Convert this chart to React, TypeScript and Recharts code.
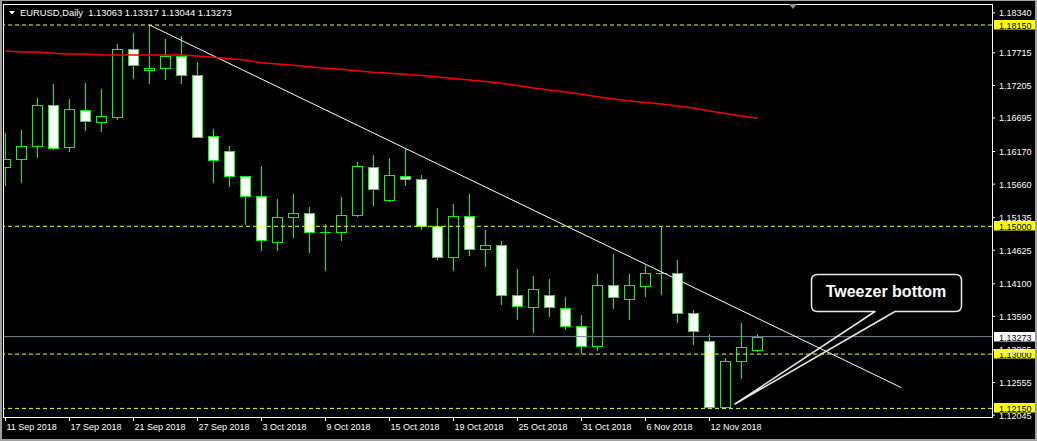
import React from "react";
import { ComposedChart, Bar, Line, XAxis, YAxis, ReferenceLine } from "recharts";

// EURUSD daily bars, 11 Sep 2018 .. 15 Nov 2018
const dates = [
  "11 Sep 2018", "12 Sep 2018", "13 Sep 2018", "14 Sep 2018", "17 Sep 2018", "18 Sep 2018",
  "19 Sep 2018", "20 Sep 2018", "21 Sep 2018", "24 Sep 2018", "25 Sep 2018", "26 Sep 2018",
  "27 Sep 2018", "28 Sep 2018", "1 Oct 2018", "2 Oct 2018", "3 Oct 2018", "4 Oct 2018",
  "5 Oct 2018", "8 Oct 2018", "9 Oct 2018", "10 Oct 2018", "11 Oct 2018", "12 Oct 2018",
  "15 Oct 2018", "16 Oct 2018", "17 Oct 2018", "18 Oct 2018", "19 Oct 2018", "22 Oct 2018",
  "23 Oct 2018", "24 Oct 2018", "25 Oct 2018", "26 Oct 2018", "29 Oct 2018", "30 Oct 2018",
  "31 Oct 2018", "1 Nov 2018", "2 Nov 2018", "5 Nov 2018", "6 Nov 2018", "7 Nov 2018",
  "8 Nov 2018", "9 Nov 2018", "12 Nov 2018", "13 Nov 2018", "14 Nov 2018", "15 Nov 2018",
];

const opens = [
  1.15923, 1.16048, 1.16252, 1.16893, 1.16236, 1.16815, 1.16627, 1.16715, 1.1777, 1.17441, 1.17472, 1.17665,
  1.17363, 1.16408, 1.16174, 1.15782, 1.15469, 1.14759, 1.15141, 1.15203, 1.14905, 1.14906, 1.15172, 1.15923,
  1.15407, 1.15782, 1.15735, 1.14997, 1.14527, 1.15156, 1.1464, 1.14703, 1.1392, 1.13732, 1.1392, 1.13717,
  1.13435, 1.13122, 1.14077, 1.13867, 1.14061, 1.14264, 1.14264, 1.13638, 1.132, 1.1217, 1.12887, 1.13063,
];
const highs = [
  1.16455, 1.16507, 1.17003, 1.17227, 1.16992, 1.17242, 1.17148, 1.17853, 1.1802, 1.1815, 1.17931, 1.17978,
  1.17571, 1.16522, 1.16252, 1.15792, 1.15943, 1.15427, 1.15505, 1.15302, 1.15036, 1.15458, 1.16006, 1.16116,
  1.16069, 1.16214, 1.15803, 1.15286, 1.15349, 1.15505, 1.14942, 1.1477, 1.14332, 1.14222, 1.14175, 1.13893,
  1.13612, 1.14253, 1.14566, 1.14253, 1.14394, 1.14994, 1.14473, 1.1369, 1.13314, 1.12939, 1.13482, 1.13317,
];
const lows = [
  1.15646, 1.15698, 1.16089, 1.16205, 1.16183, 1.16512, 1.16496, 1.16684, 1.17325, 1.17238, 1.17305, 1.17247,
  1.16393, 1.15698, 1.15635, 1.1504, 1.14629, 1.14629, 1.14837, 1.14602, 1.14316, 1.14785, 1.15166, 1.15333,
  1.154, 1.15651, 1.14958, 1.14488, 1.14321, 1.14555, 1.14383, 1.13789, 1.13554, 1.13351, 1.13601, 1.13393,
  1.13022, 1.13069, 1.13726, 1.13554, 1.13914, 1.13945, 1.13507, 1.13163, 1.1216, 1.1216, 1.12631, 1.13044,
];
const closes = [
  1.16048, 1.16252, 1.16893, 1.1622, 1.16831, 1.16643, 1.16721, 1.1777, 1.17519, 1.17472, 1.17665, 1.17363,
  1.16405, 1.16033, 1.15782, 1.15469, 1.14781, 1.15141, 1.15203, 1.14906, 1.14908, 1.15172, 1.15939, 1.15579,
  1.15798, 1.15735, 1.14997, 1.14527, 1.15156, 1.1464, 1.14703, 1.1392, 1.13748, 1.14014, 1.13732, 1.13432,
  1.13122, 1.14077, 1.13889, 1.14077, 1.14264, 1.14262, 1.13638, 1.13357, 1.1217, 1.12887, 1.13106, 1.13273,
];
// moving average (red)
const maValues = [
  1.17743, 1.17727, 1.17727, 1.17707, 1.17696, 1.17696, 1.1768, 1.1768, 1.1768, 1.1768, 1.1768, 1.1768,
  1.17665, 1.17645, 1.17623, 1.17602, 1.17561, 1.1754, 1.17519, 1.17497, 1.17472, 1.17457, 1.17435, 1.1741,
  1.17394, 1.17378, 1.1736, 1.17336, 1.17313, 1.17289, 1.17266, 1.17239, 1.17203, 1.17164, 1.17133, 1.17101,
  1.17066, 1.17028, 1.16992, 1.16961, 1.16937, 1.16914, 1.16882, 1.16851, 1.16804, 1.16765, 1.16726, 1.1669,
];

const priceTicks = [
  1.1834, 1.17715, 1.17205, 1.16695, 1.1617, 1.1566, 1.15135, 1.14625, 1.141, 1.1359, 1.13065, 1.12555, 1.12045,
];
const dateTicks = [0, 4, 8, 12, 16, 20, 24, 28, 32, 36, 40, 44];
const levels = [1.1815, 1.15, 1.13, 1.1215];
const lastPrice = 1.13273;
const trendStart = { x: 9, y: 1.1815 };
const trendEnd = { x: 56, y: 1.12474 };

const data = dates.map((d, i) => ({
  i,
  date: d,
  open: opens[i],
  high: highs[i],
  low: lows[i],
  close: closes[i],
  ma: maValues[i],
  range: [lows[i], highs[i]],
}));

const GREEN = "#00ff00";
const FONT = "'Liberation Sans', Arial, sans-serif";

function Candle(props: any) {
  const { x, y, width, height, payload } = props;
  if (x == null || y == null || !payload) return null;
  const cx = Math.floor(x + width / 2) + 0.5;
  const { open, close, high, low } = payload;
  const toY = (p: number) => y + ((high - p) / (high - low)) * height;
  const top = Math.round(Math.min(toY(open), toY(close))) + 0.5;
  const bot = Math.round(Math.max(toY(open), toY(close))) + 0.5;
  const yh = Math.round(y);
  const yl = Math.round(y + height) + 1;
  const bear = close < open;
  const doji = bot - top < 1;
  return (
    <g>
      <line x1={cx} x2={cx} y1={yh} y2={top} stroke={GREEN} strokeWidth={1} />
      <line x1={cx} x2={cx} y1={bot} y2={yl} stroke={GREEN} strokeWidth={1} />
      {doji ? (
        <line x1={cx - 5.5} x2={cx + 5.5} y1={top} y2={top} stroke={GREEN} strokeWidth={1} />
      ) : (
        <rect x={cx - 5} y={top} width={10} height={bot - top} fill={bear ? "#ffffff" : "none"} stroke={GREEN} strokeWidth={1} />
      )}
    </g>
  );
}

const priceTag = (text: string, bg: string) => (props: any) => {
  const vb = props.viewBox || {};
  const right = (vb.x || 0) + (vb.width || 0);
  const yy = Math.round(vb.y || 0);
  return (
    <g>
      <rect x={right + 2} y={yy - 5} width={41} height={9.5} fill={bg} />
      <text x={right + 7} y={yy + 3.5} fontSize={9} fontFamily={FONT} fill="#000000">
        {text}
      </text>
    </g>
  );
};

function PriceTick(props: any) {
  const { x, y, payload } = props;
  return (
    <text x={x + 1} y={y + 3.5} fontSize={9} fontFamily={FONT} fill="#ffffff">
      {Number(payload.value).toFixed(5)}
    </text>
  );
}

function DateTick(props: any) {
  const { x, y, payload } = props;
  const px = Math.floor(x) + 0.5;
  return (
    <g>
      <line x1={px} x2={px} y1={y} y2={y + 4} stroke="#ffffff" strokeWidth={1} />
      <text x={px + 1} y={y + 13} fontSize={9} fontFamily={FONT} fill="#ffffff">
        {dates[payload.value]}
      </text>
    </g>
  );
}

export default function App() {
  return (
    <div style={{ position: "fixed", left: 0, top: 0, width: 1037, height: 441, background: "#000000", fontFamily: FONT, overflow: "hidden" }}>
      <ComposedChart width={1037} height={441} data={data} margin={{ top: 5, right: 0, bottom: 0, left: 4 }}>
        <XAxis
          dataKey="i"
          type="number"
          domain={[-0.09375, 61.65625]}
          allowDataOverflow
          ticks={dateTicks}
          interval={0}
          height={24}
          axisLine={false}
          tickLine={false}
          tickSize={0}
          tickMargin={0}
          tick={<DateTick />}
        />
        <YAxis
          orientation="right"
          domain={[1.120154, 1.18463]}
          allowDataOverflow
          ticks={priceTicks}
          interval={0}
          width={45}
          axisLine={false}
          tickLine={{ stroke: "#ffffff" }}
          tickSize={3}
          tickMargin={3}
          tick={<PriceTick />}
        />
        <ReferenceLine y={lastPrice} stroke="#778899" strokeWidth={1} label={priceTag("1.13273", "#ffffff")} />
        {levels.map((lv) => (
          <ReferenceLine key={lv} y={lv} stroke="#ffff00" strokeWidth={1} strokeDasharray="4 3" label={priceTag(lv.toFixed(5), "#ffff00")} />
        ))}
        <ReferenceLine segment={[trendStart, trendEnd]} stroke="#ffffff" strokeWidth={1} />
        <Line dataKey="ma" type="linear" stroke="#ff0000" strokeWidth={1.5} dot={false} activeDot={false} isAnimationActive={false} />
        <Bar dataKey="range" barSize={11} isAnimationActive={false} shape={(p: any) => <Candle {...p} />} />
      </ComposedChart>

      <svg width={1037} height={441} style={{ position: "absolute", left: 0, top: 0, pointerEvents: "none" }}>
        {/* window borders */}
        <rect x={0} y={0} width={1037} height={1} fill="#a0a0a0" />
        <rect x={0} y={0} width={2} height={441} fill="#a0a0a0" />
        <rect x={1035} y={0} width={2} height={441} fill="#a0a0a0" />
        <rect x={0} y={439} width={1037} height={2} fill="#a0a0a0" />
        {/* chart frame */}
        <rect x={3.5} y={4.5} width={989} height={413} fill="none" stroke="#ffffff" strokeWidth={1} />
        {/* title */}
        <polygon points="9,11 15,11 12,14.5" fill="#ffffff" />
        <text x={20} y={16} fontSize={9.4} fontFamily={FONT} fill="#ffffff" style={{ whiteSpace: "pre" }}>
          {"EURUSD,Daily  1.13063 1.13317 1.13044 1.13273"}
        </text>
        {/* chart shift marker */}
        <polygon points="789,4 797,4 793,9" fill="#909090" />
        {/* callout */}
        <rect x={811.5} y={274.5} width={150} height={37} rx={6} fill="#000000" />
        <path
          d="M 875 311.5 L 735 404 L 895 311.5 H 955.5 Q 961.5 311.5 961.5 305.5 V 280.5 Q 961.5 274.5 955.5 274.5 H 817.5 Q 811.5 274.5 811.5 280.5 V 305.5 Q 811.5 311.5 817.5 311.5 Z"
          fill="none"
          stroke="#e8e8e8"
          strokeWidth={1.5}
          strokeLinejoin="round"
        />
        <text x={886} y={297} textAnchor="middle" fontSize={16} fontWeight="bold" fontFamily={FONT} fill="#ffffff">
          Tweezer bottom
        </text>
      </svg>
    </div>
  );
}
